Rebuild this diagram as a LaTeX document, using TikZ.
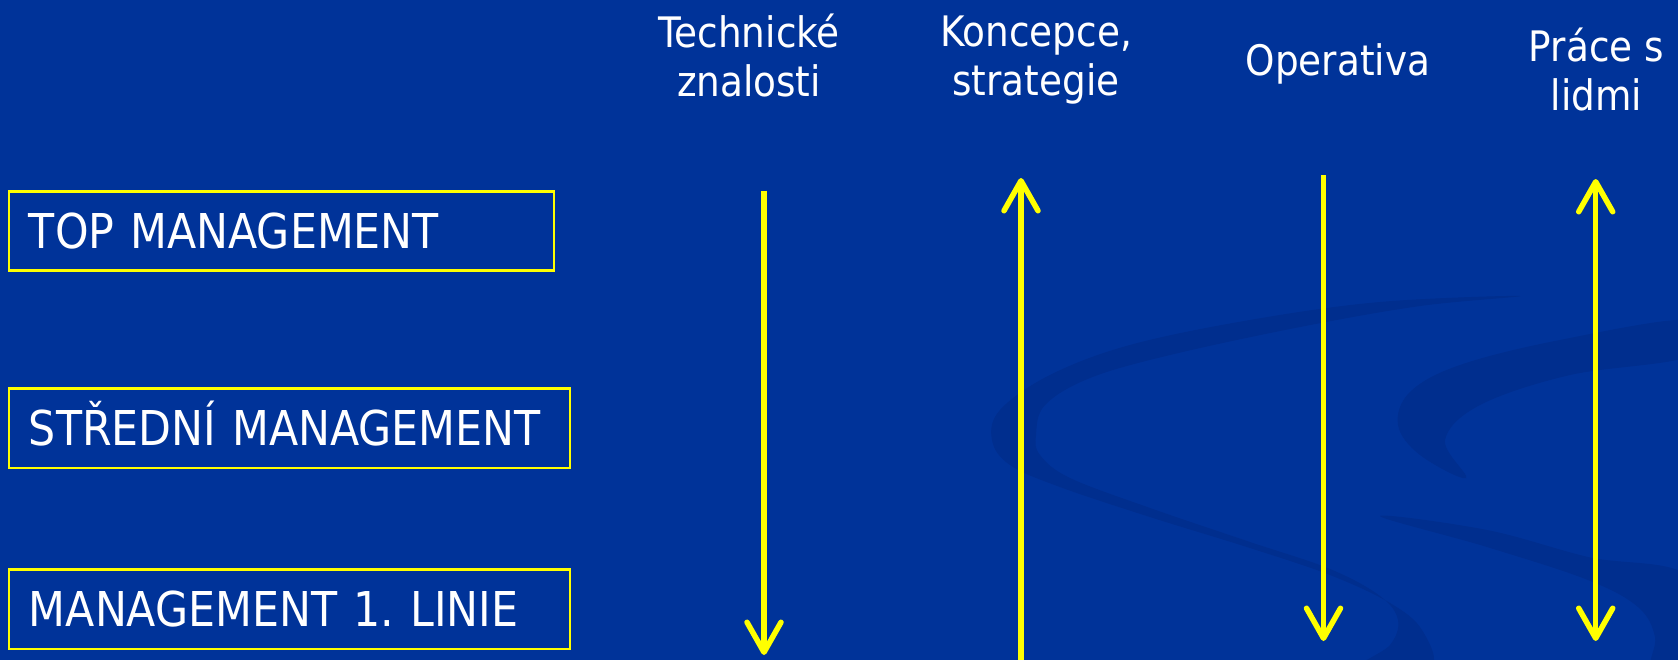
\documentclass[tikz,border=0pt]{standalone}
\usepackage{fontspec}
\setmainfont{DejaVu Sans}[FakeStretch=0.89]
\usetikzlibrary{arrows.meta}
\definecolor{bgblue}{RGB}{0,51,153}
\definecolor{swirlblue}{RGB}{0,46,142}
\definecolor{ayellow}{RGB}{255,255,0}
\frenchspacing
\begin{document}
\begin{tikzpicture}[x=1pt,y=-1pt,
  levelbox/.style={draw=ayellow, line width=2.5pt, anchor=north west,
    inner xsep=20pt, inner ysep=0pt, text=white,
    font=\fontsize{48}{58}\selectfont, text height=35pt, text depth=0pt, align=left},
  header/.style={text=white, font=\fontsize{42}{49}\selectfont, align=center,
    inner sep=0pt, anchor=base},
  flow/.style={draw=ayellow, line width=5.5pt},
  barb/.style={arrows={-{Straight Barb[length=30pt,width=34pt,round]}}},
  dbarb/.style={arrows={{Straight Barb[length=30pt,width=34pt,round]}-{Straight Barb[length=30pt,width=34pt,round]}}},
  swirl/.style={fill=swirlblue, draw=none}
]
\useasboundingbox (0,0) rectangle (1678,659);
\fill[bgblue] (-4,-4) rectangle (1682,663);
% background swirls
\begin{scope}
\clip (-2,-2) rectangle (1680,661);
\path[swirl] plot[smooth cycle, tension=0.6] coordinates {
  (1520,296) (1380,302) (1250,320) (1130,345) (1050,375) (1000,410) (992,440)
  (1010,465) (1060,487) (1150,517) (1250,548) (1330,575) (1390,603) (1422,630)
  (1430,668) (1360,668) (1390,645) (1398,620) (1380,596) (1330,569) (1250,542)
  (1150,508) (1070,478) (1040,455) (1036,435) (1045,405) (1090,378) (1170,355)
  (1300,327) (1420,306)};
\path[swirl] plot[smooth cycle, tension=0.6] coordinates {
  (1466,478) (1420,455) (1398,425) (1410,392) (1460,365) (1560,340) (1690,320)
  (1690,356) (1570,375) (1480,405) (1445,440)};
\path[swirl] plot[smooth cycle, tension=0.6] coordinates {
  (1380,516) (1487,530) (1588,557) (1690,578)
  (1690,668) (1652,668) (1655,637) (1638,607) (1588,580) (1487,547)};
\end{scope}
% level boxes
\node[levelbox, text width=505pt, minimum height=79pt] (top) at (7.7,190.3) {TOP MANAGEMENT};
\node[levelbox, text width=521pt, minimum height=79.5pt] (mid) at (7.7,387) {STŘEDNÍ MANAGEMENT};
\node[levelbox, text width=521pt, minimum height=79.4pt] (first) at (7.7,568.3) {MANAGEMENT 1. LINIE};
% headers (base = baseline of last line)
\node[header] (tech) at (749,96) {Technické\\znalosti};
\node[header] (konc) at (1036,95) {Koncepce,\\strategie};
\node[header] (oper) at (1338,75) {Operativa};
\node[header] (prace) at (1596.5,110) {Práce s\\lidmi};
% arrows
\coordinate (t1) at (764,190.7);
\coordinate (b1) at (764,655);
\coordinate (t2) at (1021,178);
\coordinate (b2) at (1021,662);
\coordinate (t3) at (1323.5,175.3);
\coordinate (b3) at (1323.5,641);
\coordinate (t4) at (1595.7,179);
\coordinate (b4) at (1595.7,641);
\draw[flow, barb] (t1) -- (b1);
\draw[flow, barb] (b2) -- (t2);
\draw[flow, barb] (t3) -- (b3);
\draw[flow, dbarb] (t4) -- (b4);
\end{tikzpicture}
\end{document}
